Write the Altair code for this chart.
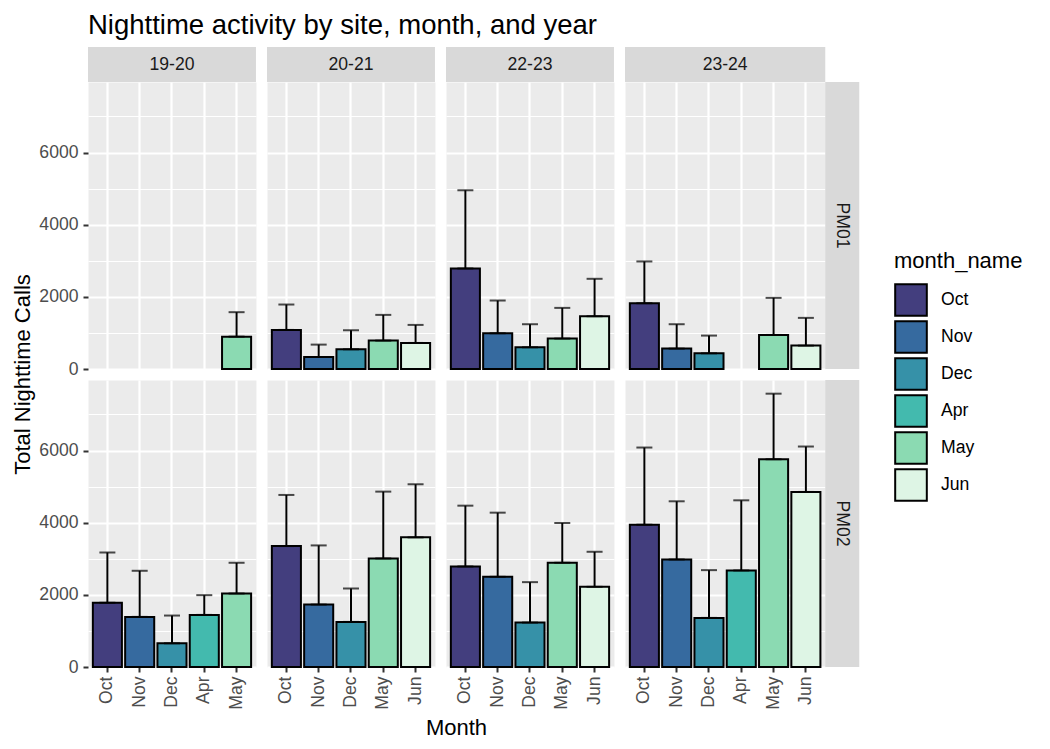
import altair as alt
import pandas as pd

seasons = ['19-20', '20-21', '22-23', '23-24']
sites = ['PM01', 'PM02']
months = ['Oct', 'Nov', 'Dec', 'Apr', 'May', 'Jun']
month_colors = ['#433E7E', '#366A9F', '#3691A8', '#43BAAE', '#8BDAB2', '#DEF5E5']

# months sampled in each season (every column has its own x axis)
season_months = {
    '19-20': ['Oct', 'Nov', 'Dec', 'Apr', 'May'],
    '20-21': ['Oct', 'Nov', 'Dec', 'May', 'Jun'],
    '22-23': ['Oct', 'Nov', 'Dec', 'May', 'Jun'],
    '23-24': ['Oct', 'Nov', 'Dec', 'Apr', 'May', 'Jun'],
}

# --- PM01: mean nightly calls and sd ---
pm01_season = ['19-20'] + ['20-21'] * 5 + ['22-23'] * 5 + ['23-24'] * 5
pm01_month = ['May',
              'Oct', 'Nov', 'Dec', 'May', 'Jun',
              'Oct', 'Nov', 'Dec', 'May', 'Jun',
              'Oct', 'Nov', 'Dec', 'May', 'Jun']
pm01_mean = [897, 1083, 333, 546, 787, 722, 2787, 991, 602, 843, 1463, 1824, 565, 435, 944, 648]
pm01_sd = [678, 704, 343, 528, 713, 500, 2167, 907, 639, 851, 1037, 1157, 676, 491, 1028, 769]

# --- PM02 ---
pm02_season = ['19-20'] * 5 + ['20-21'] * 5 + ['22-23'] * 5 + ['23-24'] * 6
pm02_month = ['Oct', 'Nov', 'Dec', 'Apr', 'May',
              'Oct', 'Nov', 'Dec', 'May', 'Jun',
              'Oct', 'Nov', 'Dec', 'May', 'Jun',
              'Oct', 'Nov', 'Dec', 'Apr', 'May', 'Jun']
pm02_mean = [1778, 1389, 657, 1444, 2037, 3352, 1731, 1250, 3009, 3593,
             2787, 2500, 1231, 2889, 2222, 3944, 2981, 1361, 2676, 5759, 4852]
pm02_sd = [1398, 1278, 769, 547, 852, 1417, 1639, 926, 1852, 1472,
           1685, 1778, 1121, 1102, 972, 2139, 1612, 1324, 1944, 1817, 1259]

df = pd.concat([
    pd.DataFrame({'site': 'PM01', 'season': pm01_season, 'month_name': pm01_month,
                  'mean': pm01_mean, 'sd': pm01_sd}),
    pd.DataFrame({'site': 'PM02', 'season': pm02_season, 'month_name': pm02_month,
                  'mean': pm02_mean, 'sd': pm02_sd}),
], ignore_index=True)
df['upper'] = df['mean'] + df['sd']

# layout constants
STEP = 32.3
PAD_IN, PAD_OUT = 0.1, 0.15
PANEL_H = 287
Y_MAX = 7955
STRIP = 35
FONT = 'Liberation Sans'
AXIS_TXT = 17.6
TITLE_TXT = 22
LINE = 2


def panel(site, season):
    mlist = season_months[season]
    width = STEP * (len(mlist) - PAD_IN + 2 * PAD_OUT)
    first_col = season == seasons[0]
    last_col = season == seasons[-1]
    top_row = site == sites[0]
    bottom_row = site == sites[-1]

    grid = dict(grid=True, gridColor='white', gridWidth=2.2, domain=False)
    if bottom_row:
        x_axis = alt.Axis(labelAngle=270, labelFontSize=AXIS_TXT, labelColor='#4D4D4D',
                          labelPadding=4, tickSize=5, tickColor='#333333', tickWidth=LINE,
                          bandPosition=0.5, title='Month' if first_col else None,
                          titleFontSize=TITLE_TXT, titleFontWeight='normal', titleColor='black',
                          titleX=368, titleY=60, titleBaseline='middle', titleAlign='center',
                          **grid)
    else:
        x_axis = alt.Axis(labels=False, ticks=False, title=None, bandPosition=0.5, **grid)

    major = 'datum.value % 2000 === 0'
    y_grid = dict(grid=True, gridColor='white', domain=False,
                  values=list(range(0, 8000, 1000)),
                  gridWidth={'condition': {'test': major, 'value': 2.2}, 'value': 1.1})
    if first_col:
        y_axis = alt.Axis(format='d', labelExpr=f"{major} ? datum.label : ''",
                          labelFontSize=AXIS_TXT, labelColor='#4D4D4D', labelPadding=5,
                          tickSize=5, tickWidth=LINE,
                          tickColor={'condition': {'test': major, 'value': '#333333'},
                                     'value': 'transparent'},
                          title='Total Nighttime Calls' if top_row else None,
                          titleFontSize=TITLE_TXT, titleFontWeight='normal', titleColor='black',
                          titleX=-66, titleY=292, titleBaseline='middle', titleAlign='center',
                          **y_grid)
    else:
        y_axis = alt.Axis(labels=False, ticks=False, title=None, **y_grid)

    x = alt.X('month_name:N', scale=alt.Scale(domain=mlist, paddingInner=PAD_IN,
                                               paddingOuter=PAD_OUT), axis=x_axis)
    y_scale = alt.Scale(domain=[0, Y_MAX], nice=False, zero=True)

    base = alt.Chart(df[(df['site'] == site) & (df['season'] == season)])
    bars = base.mark_bar(stroke='black', strokeWidth=LINE).encode(
        x=x,
        y=alt.Y('mean:Q', scale=y_scale, axis=y_axis),
        color=alt.Color('month_name:N',
                        scale=alt.Scale(domain=months, range=month_colors),
                        legend=alt.Legend(title='month_name', orient='none',
                                          legendX=806, legendY=169,
                                          symbolType='square', symbolSize=1000,
                                          symbolStrokeColor='black', symbolStrokeWidth=LINE,
                                          symbolOpacity=1, labelFontSize=AXIS_TXT,
                                          labelColor='black', labelOffset=13,
                                          titleFontSize=TITLE_TXT, titleFontWeight='normal',
                                          titleColor='black', titlePadding=10,
                                          rowPadding=-4)),
    )
    err = base.mark_rule(color='black', strokeWidth=LINE).encode(
        x='month_name:N', y='mean:Q', y2='upper:Q')
    cap_hi = base.mark_tick(color='black', size=16, thickness=LINE).encode(
        x='month_name:N', y='upper:Q')
    cap_lo = base.mark_tick(color='black', size=16, thickness=LINE).encode(
        x='month_name:N', y='mean:Q')
    layers = [bars, err, cap_hi, cap_lo]

    # ggplot-style strips
    if top_row:
        lab = alt.Chart(pd.DataFrame({'label': [season]}))
        layers.append(lab.mark_rect(color='#D9D9D9').encode(
            x=alt.value(0), x2=alt.value(width), y=alt.value(-STRIP), y2=alt.value(0)))
        layers.append(lab.mark_text(fontSize=AXIS_TXT, color='#1A1A1A', baseline='middle').encode(
            text='label:N', x=alt.value(width / 2), y=alt.value(-STRIP / 2)))
    if last_col:
        lab = alt.Chart(pd.DataFrame({'label': [site]}))
        layers.append(lab.mark_rect(color='#D9D9D9').encode(
            x=alt.value(width), x2=alt.value(width + 34), y=alt.value(0), y2=alt.value(PANEL_H)))
        layers.append(lab.mark_text(fontSize=AXIS_TXT, color='#1A1A1A', baseline='middle',
                                    angle=90).encode(
            text='label:N', x=alt.value(width + 17), y=alt.value(PANEL_H / 2)))

    return alt.layer(*layers).properties(width=width, height=PANEL_H)


panels = [panel(s, se) for s in sites for se in seasons]

chart = alt.concat(*panels, columns=4, spacing=11, bounds='flush').properties(
    title=alt.TitleParams('Nighttime activity by site, month, and year', anchor='start',
                          frame='group', fontSize=27.5, fontWeight='normal', color='black',
                          offset=7),
    padding={'left': 2, 'top': 4, 'right': 5, 'bottom': 5},
).configure(
    font=FONT,
).configure_view(
    fill='#EBEBEB', stroke='transparent'
)

chart.save('out.html', embed_options={'renderer': 'svg', 'actions': False})
